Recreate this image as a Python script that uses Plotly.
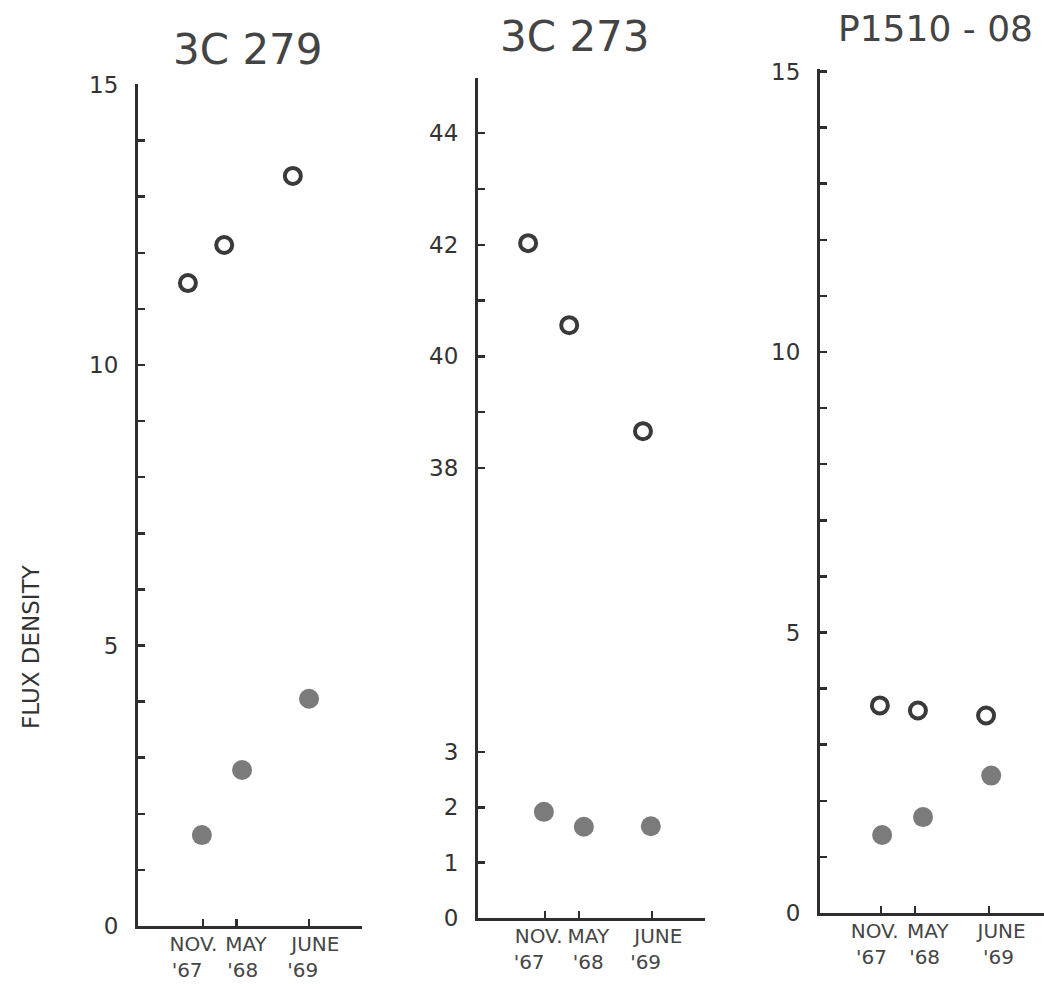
import plotly.graph_objects as go

# ---------------- data ----------------
epoch_vals = [0, 6, 19]                      # months after Nov 1967
epoch_line1 = ["NOV.", "MAY", "JUNE"]
epoch_line2 = ["'67", "'68", "'69"]

titles = ["3C 279", "3C 273", "P1510 - 08"]

c279_open_x = [-2.7, 3.8, 16.1]
c279_open_y = [11.46, 12.14, 13.37]
c279_fill_x = [-0.2, 7.0, 19.0]
c279_fill_y = [1.62, 2.78, 4.05]

c273_open_x = [-3.0, 4.3, 17.4]
c273_open_y = [42.03, 40.56, 38.66]
c273_fill_x = [-0.2, 6.9, 18.8]
c273_fill_y = [1.92, 1.65, 1.66]

p1510_open_x = [-0.2, 6.5, 18.5]
p1510_open_y = [3.70, 3.61, 3.52]
p1510_fill_x = [0.2, 7.4, 19.4]
p1510_fill_y = [1.39, 1.71, 2.45]

ylab_main = [0, 5, 10, 15]
ylab_273_low = [0, 1, 2, 3]
ylab_273_high = [38, 40, 42, 44]

# ---------------- layout helpers ----------------
W, H = 1044, 984
FONT = "DejaVu Sans"
INK = "#2e2e2e"
XFS = 20
NB = "\u00a0"
NB_W = 0.318 * XFS  # width of a no-break space


def fx(px):
    return px / W


def fy(py):
    return 1 - py / H


def xrange_from(px_left, px_right, px_zero, px_per_unit):
    return [(px_left - px_zero) / px_per_unit, (px_right - px_zero) / px_per_unit]


def shifted(text, px_shift):
    n = int(round(abs(px_shift) * 2 / NB_W))
    return text + NB * n if px_shift < 0 else NB * n + text


def tick_text(shifts):
    out = []
    for a, b, (s1, s2) in zip(epoch_line1, epoch_line2, shifts):
        out.append(shifted(a, s1) + "<br>" + shifted(b, s2))
    return out


fig = go.Figure()

open_marker = dict(symbol="circle", size=16, color="white",
                   line=dict(width=4, color="#3a3a3a"))
fill_marker = dict(symbol="circle", size=20, color="#7b7b7b",
                   line=dict(width=0))


def add_pair(xa, ya, ox, oy, fxs, fys):
    fig.add_trace(go.Scatter(x=ox, y=oy, mode="markers", marker=open_marker,
                             xaxis=xa, yaxis=ya, cliponaxis=False,
                             showlegend=False, hoverinfo="x+y"))
    fig.add_trace(go.Scatter(x=fxs, y=fys, mode="markers", marker=fill_marker,
                             xaxis=xa, yaxis=ya, cliponaxis=False,
                             showlegend=False, hoverinfo="x+y"))


add_pair("x", "y", c279_open_x, c279_open_y, c279_fill_x, c279_fill_y)
add_pair("x2", "y3", c273_open_x, c273_open_y, [], [])
add_pair("x2", "y2", [], [], c273_fill_x, c273_fill_y)
add_pair("x3", "y4", p1510_open_x, p1510_open_y, p1510_fill_x, p1510_fill_y)

common_x = dict(
    showgrid=False, zeroline=False, showline=True, linecolor=INK, linewidth=3,
    tickmode="array", tickvals=epoch_vals, tickangle=0,
    ticks="inside", ticklen=7, tickwidth=2.5, tickcolor=INK,
    tickfont=dict(family=FONT, size=XFS, color="#464646"),
    ticklabelstandoff=-2, fixedrange=True, automargin=False,
)
common_y = dict(
    showgrid=False, zeroline=False, showline=True, linecolor=INK, linewidth=3,
    tickmode="array", ticks="inside", ticklen=7, tickwidth=2.5, tickcolor=INK,
    tickfont=dict(family=FONT, size=23, color="#333333"),
    ticklabelstandoff=12, fixedrange=True, automargin=False,
    minor=dict(dtick=1, ticks="inside", ticklen=7, tickwidth=2.5, tickcolor=INK),
)

# panel 1 : 3C 279
x1 = dict(common_x, domain=[fx(138), fx(362)],
          range=xrange_from(138, 362, 203, 5.58), anchor="y",
          ticktext=tick_text([(-11, -16), (8, 5), (5, -5)]))
y1 = dict(common_y, domain=[fy(926), fy(84)],
          range=[0, (926 - 84) / 56.1], anchor="x",
          tickvals=ylab_main, ticktext=[str(v) for v in ylab_main])

# panel 2 : 3C 273 (broken scale)
split = 600
x2 = dict(common_x, domain=[fx(478), fx(705)],
          range=xrange_from(478, 705, 545, 5.63), anchor="y2",
          ticktext=tick_text([(-7, -16), (9, 8), (5, -5)]))
y2 = dict(common_y, domain=[fy(918), fy(split)],
          range=[0, (918 - split) / 55.3], anchor="x2",
          tickvals=ylab_273_low, ticktext=[str(v) for v in ylab_273_low],
          minor=dict(tickvals=[1, 2, 3], ticks="inside", ticklen=7,
                     tickwidth=2.5, tickcolor=INK))
y3 = dict(common_y, domain=[fy(split), fy(78)],
          range=[38 - (split - 468) / 55.8, 38 + (468 - 78) / 55.8], anchor="x2",
          tickvals=ylab_273_high, ticktext=[str(v) for v in ylab_273_high],
          minor=dict(tickvals=[38, 39, 40, 41, 42, 43, 44], ticks="inside",
                     ticklen=7, tickwidth=2.5, tickcolor=INK))

# panel 3 : P1510-08
x3 = dict(common_x, domain=[fx(820), 1.0],
          range=xrange_from(820, 1044, 881, 5.68), anchor="y4",
          ticktext=tick_text([(-6, -10), (12, 10), (13, 11)]))
y4 = dict(common_y, domain=[fy(913), fy(69)],
          range=[0, (913 - 69) / 56.1], anchor="x3",
          tickvals=ylab_main, ticktext=[str(v) for v in ylab_main])

title_pos = [(248, 50, 42), (575, 36, 42), (935, 29, 36)]
annotations = []
for t, (px, py, sz) in zip(titles, title_pos):
    annotations.append(dict(text=t, x=fx(px), y=fy(py), xref="paper", yref="paper",
                            xanchor="center", yanchor="middle", showarrow=False,
                            font=dict(family=FONT, size=sz, color="#444444")))
annotations.append(dict(text="FLUX DENSITY", x=fx(31), y=fy(647), xref="paper",
                        yref="paper", xanchor="center", yanchor="middle",
                        textangle=-90, showarrow=False,
                        font=dict(family=FONT, size=23, color="#333333")))

fig.update_layout(
    width=W, height=H, margin=dict(l=0, r=0, t=0, b=0),
    paper_bgcolor="white", plot_bgcolor="white",
    xaxis=x1, yaxis=y1, xaxis2=x2, yaxis2=y2, yaxis3=y3,
    xaxis3=x3, yaxis4=y4,
    annotations=annotations, showlegend=False,
)

fig.write_html("out.html",
               config={"displayModeBar": False, "staticPlot": True},
               post_script="document.body.style.margin='0px';"
                           "document.body.style.overflow='hidden';")
